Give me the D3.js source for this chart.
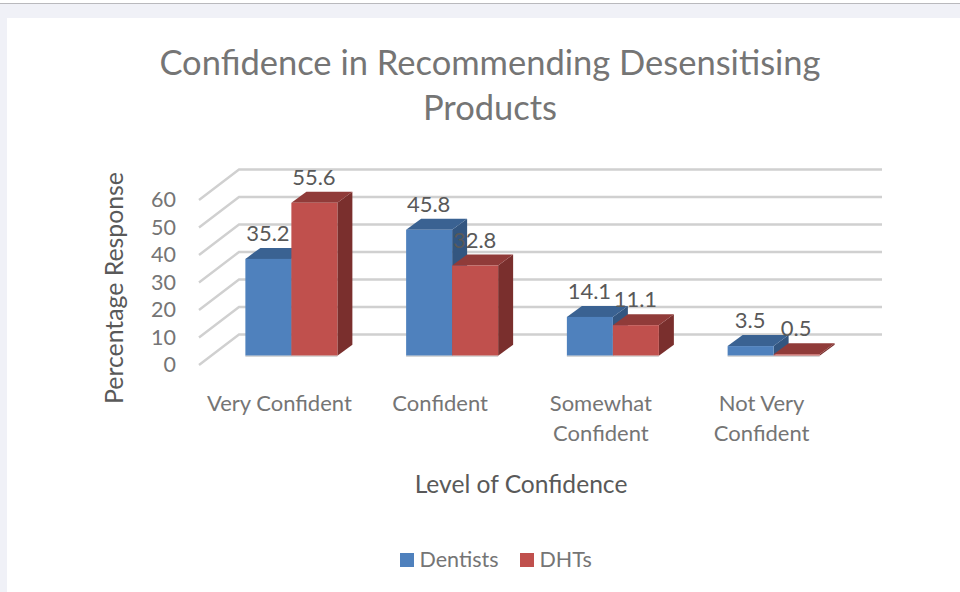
<!DOCTYPE html>
<html><head><meta charset="utf-8">
<script src="https://cdn.jsdelivr.net/npm/d3@7"></script>
<style>html,body{margin:0;padding:0;background:#fff}svg{display:block}text{font-family:Lato,Carlito,sans-serif;fill:#757575}</style>
</head><body><svg id="c" width="960" height="592"></svg>
<script>
const categories=["Very Confident","Confident","Somewhat Confident","Not Very Confident"];
const categoryLines=[["Very Confident"],["Confident"],["Somewhat","Confident"],["Not Very","Confident"]];
const seriesNames=["Dentists","DHTs"];
const dentists=[35.2,45.8,14.1,3.5];
const dhts=[55.6,32.8,11.1,0.5];
const yTicks=[0,10,20,30,40,50,60];
const colors=["#4f81bd","#c0504d"];
const topColors=["#3a6292","#903b39"];
const sideColors=["#335680","#7a2f2d"];

const svg=d3.select("#c");
svg.append("rect").attr("x",0).attr("y",3).attr("width",960).attr("height",589).attr("fill","#f0f1f7");
svg.append("rect").attr("x",0).attr("y",3).attr("width",960).attr("height",1).attr("fill","#b9b9bd");
svg.append("rect").attr("x",7).attr("y",18).attr("width",953).attr("height",574).attr("fill","#fff");

const x=d3.scaleBand().domain(categories).range([199,842]);
const y=d3.scaleLinear().domain([0,60]).range([365,200]);
const wallDx=40,wallDy=-30.5;
const barDx=15,barDy=-11;
const baseY=355.7;
const barW=46;

const grid=svg.append("g");
yTicks.forEach(t=>{
  grid.append("polyline").attr("fill","none").attr("stroke","#d0d0d0").attr("stroke-width",2.4)
    .attr("points",[[x.range()[0],y(t)],[x.range()[0]+wallDx,y(t)+wallDy],[x.range()[1]+wallDx,y(t)+wallDy]].join(" "));
});
const yAxis=svg.append("g");
yTicks.forEach(t=>{
  yAxis.append("text").attr("x",176).attr("y",y(t)+7).attr("text-anchor","end").attr("font-size",21.5).text(t);
});
const path=p=>"M"+p.map(a=>a.join(",")).join("L")+"Z";
const bars=svg.append("g");
const labels=[];
const h=d3.scaleLinear().domain([0,60]).range([0,165]);
categories.forEach((c,i)=>{
  const cx=x(c)+x.bandwidth()/2+12;
  [dentists[i],dhts[i]].forEach((v,s)=>{
    const x0=cx-barW+s*barW, x1=x0+barW, yt=baseY-h(v);
    bars.append("path").attr("d",path([[x1,baseY],[x1+barDx,baseY+barDy],[x1+barDx,yt+barDy],[x1,yt]])).attr("fill",sideColors[s]);
    bars.append("path").attr("d",path([[x0,yt],[x0+barDx,yt+barDy],[x1+barDx,yt+barDy],[x1,yt]])).attr("fill",topColors[s]);
    bars.append("rect").attr("x",x0).attr("y",yt).attr("width",barW).attr("height",h(v)).attr("fill",colors[s]);
    labels.push({v,x:x0+barW/2-0.5,y:yt-18});
  });
  bars.append("line").attr("x1",cx-barW).attr("x2",cx+barW).attr("y1",baseY+0.5).attr("y2",baseY+0.5).attr("stroke","#c4c4c4").attr("stroke-width",1);
});
labels.forEach(l=>{
  svg.append("text").attr("x",l.x).attr("y",l.y).attr("text-anchor","middle").attr("font-size",22).style("fill","#595959").text(l.v.toFixed(1));
});
categories.forEach((c,i)=>{
  const t=svg.append("text").attr("text-anchor","middle").attr("font-size",22);
  categoryLines[i].forEach((ln,k)=>{
    t.append("tspan").attr("x",x(c)+x.bandwidth()/2).attr("y",411+k*30).text(ln);
  });
});
svg.append("text").attr("x",490).attr("y",75).attr("text-anchor","middle").attr("font-size",34.5).text("Confidence in Recommending Desensitising");
svg.append("text").attr("x",490).attr("y",120).attr("text-anchor","middle").attr("font-size",34.5).text("Products");
svg.append("text").attr("x",521).attr("y",493).attr("text-anchor","middle").attr("font-size",24.6).style("fill","#595959").text("Level of Confidence");
svg.append("text").attr("transform","translate(123,288) rotate(-90)").attr("text-anchor","middle").attr("font-size",24.8).style("fill","#595959").text("Percentage Response");
const legX=[400,520];
seriesNames.forEach((n,i)=>{
  svg.append("rect").attr("x",legX[i]).attr("y",553).attr("width",14).attr("height",14).attr("fill",colors[i]);
  svg.append("text").attr("x",legX[i]+19.5).attr("y",567).attr("font-size",21.5).text(n);
});
</script></body></html>
